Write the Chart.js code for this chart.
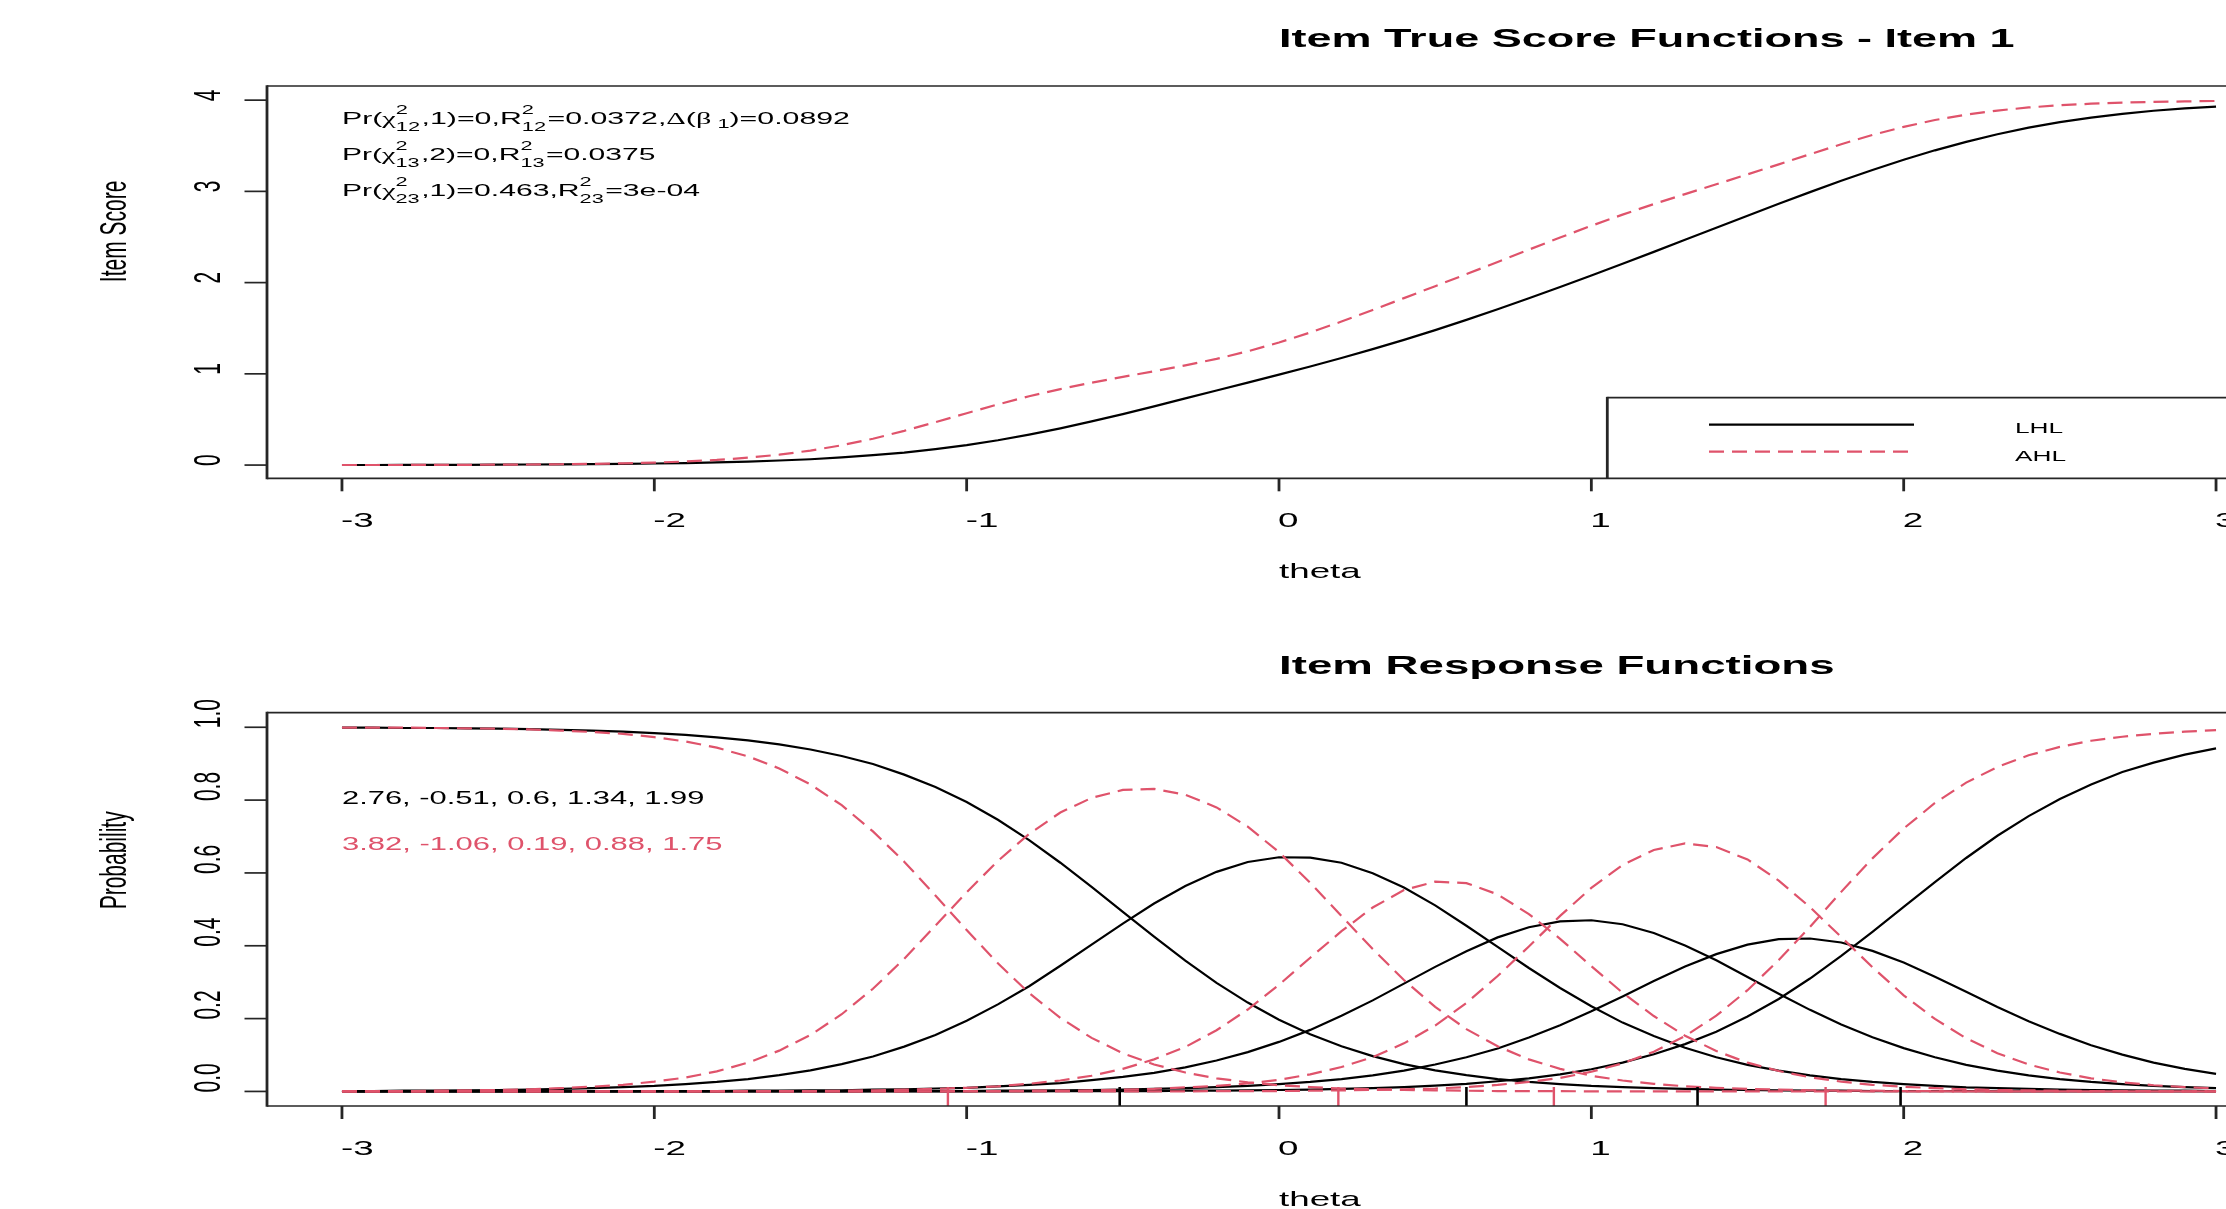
<!DOCTYPE html>
<html>
<head>
<meta charset="utf-8">
<script src="https://cdn.jsdelivr.net/npm/chart.js@4/dist/chart.umd.min.js"></script>
<style>
html,body{margin:0;padding:0;background:#fff;overflow:hidden;width:2226px;height:1209px;}
canvas{position:absolute;left:0;}
#top{top:0;}
#bot{top:605px;}
</style>
</head>
<body>
<canvas id="top"></canvas>
<canvas id="bot"></canvas>
<script>
// ---------------- data ----------------
const theta = [-3.0,-2.9,-2.8,-2.7,-2.6,-2.5,-2.4,-2.3,-2.2,-2.1,-2.0,-1.9,-1.8,-1.7,-1.6,-1.5,-1.4,-1.3,-1.2,-1.1,
  -1.0,-0.9,-0.8,-0.7,-0.6,-0.5,-0.4,-0.3,-0.2,-0.1,0.0,0.1,0.2,0.3,0.4,0.5,0.6,0.7,0.8,0.9,
  1.0,1.1,1.2,1.3,1.4,1.5,1.6,1.7,1.8,1.9,2.0,2.1,2.2,2.3,2.4,2.5,2.6,2.7,2.8,2.9,3.0];

// Item true score functions (top panel)
const itsLHL = [0.001,0.001,0.002,0.002,0.003,0.004,0.006,0.007,0.010,0.013,0.017,0.022,0.029,0.038,0.050,0.064,0.084,0.108,0.137,0.175,
  0.219,0.272,0.334,0.403,0.479,0.559,0.644,0.731,0.817,0.904,0.992,1.081,1.174,1.271,1.372,1.479,1.591,1.708,1.828,1.951,
  2.078,2.207,2.337,2.469,2.601,2.733,2.864,2.992,3.116,3.234,3.346,3.450,3.543,3.626,3.698,3.759,3.809,3.850,3.884,3.910,3.930];
const itsAHL = [0.001,0.001,0.001,0.002,0.003,0.004,0.006,0.009,0.013,0.019,0.027,0.039,0.056,0.081,0.114,0.159,0.217,0.289,0.375,0.470,
  0.568,0.665,0.754,0.833,0.903,0.967,1.028,1.093,1.164,1.247,1.344,1.453,1.573,1.700,1.830,1.961,2.093,2.226,2.361,2.494,
  2.623,2.745,2.861,2.970,3.078,3.186,3.296,3.407,3.517,3.618,3.707,3.782,3.841,3.886,3.920,3.944,3.961,3.973,3.981,3.986,3.991];

// Item response functions (bottom panel), LHL group (black)
const lhlCat0 = [0.999,0.999,0.998,0.998,0.997,0.996,0.995,0.993,0.991,0.988,0.984,0.979,0.972,0.964,0.953,0.939,0.921,0.899,0.870,0.836,
  0.795,0.746,0.690,0.628,0.562,0.493,0.425,0.359,0.298,0.244,0.197,0.157,0.124,0.097,0.075,0.058,0.045,0.034,0.026,0.020,
  0.015,0.012,0.009,0.007,0.005,0.004,0.003,0.002,0.002,0.001,0.001,0.001,0.001,0,0,0,0,0,0,0,0];
const lhlCat1 = [0.001,0.001,0.002,0.002,0.003,0.004,0.005,0.007,0.009,0.012,0.015,0.020,0.026,0.034,0.045,0.058,0.075,0.096,0.123,0.155,
  0.194,0.239,0.289,0.345,0.403,0.461,0.516,0.564,0.603,0.630,0.643,0.642,0.628,0.599,0.560,0.511,0.455,0.397,0.339,0.284,
  0.234,0.189,0.152,0.120,0.094,0.073,0.057,0.044,0.034,0.026,0.020,0.015,0.011,0.009,0.007,0.005,0.004,0.003,0.002,0.002,0.001];
const lhlCat2 = [0,0,0,0,0,0,0,0,0,0,0.001,0.001,0.001,0.002,0.002,0.003,0.003,0.005,0.006,0.008,
  0.010,0.014,0.018,0.023,0.031,0.040,0.051,0.066,0.085,0.108,0.136,0.169,0.208,0.250,0.296,0.342,0.385,0.423,0.451,0.467,
  0.470,0.459,0.435,0.401,0.360,0.314,0.268,0.224,0.184,0.149,0.119,0.094,0.073,0.057,0.044,0.034,0.026,0.020,0.015,0.012,0.009];
const lhlCat3 = [0,0,0,0,0,0,0,0,0,0,0,0,0,0,0,0,0,0.001,0.001,0.001,
  0.001,0.002,0.002,0.003,0.004,0.005,0.007,0.009,0.012,0.015,0.020,0.026,0.034,0.044,0.057,0.074,0.094,0.118,0.148,0.182,
  0.220,0.261,0.303,0.343,0.377,0.403,0.418,0.420,0.409,0.386,0.354,0.315,0.274,0.232,0.193,0.158,0.127,0.101,0.079,0.062,0.048];
const lhlCat4 = [0,0,0,0,0,0,0,0,0,0,0,0,0,0,0,0,0,0,0,0,
  0,0,0,0.001,0.001,0.001,0.001,0.002,0.002,0.003,0.004,0.005,0.007,0.009,0.012,0.016,0.021,0.028,0.036,0.047,
  0.061,0.079,0.102,0.130,0.164,0.206,0.254,0.310,0.372,0.438,0.507,0.575,0.641,0.702,0.756,0.803,0.843,0.877,0.903,0.925,0.942];

// AHL group (red dashed)
const ahlCat0 = [0.999,0.999,0.999,0.998,0.997,0.996,0.994,0.991,0.987,0.982,0.973,0.961,0.944,0.920,0.887,0.843,0.786,0.714,0.631,0.538,
  0.443,0.352,0.270,0.202,0.147,0.105,0.074,0.052,0.036,0.025,0.017,0.012,0.008,0.006,0.004,0.003,0.002,0.001,0.001,0.001,
  0,0,0,0,0,0,0,0,0,0,0,0,0,0,0,0,0,0,0,0,0];
const ahlCat1 = [0.001,0.001,0.001,0.002,0.003,0.004,0.006,0.009,0.013,0.018,0.027,0.038,0.055,0.079,0.112,0.155,0.212,0.282,0.364,0.455,
  0.547,0.633,0.707,0.766,0.806,0.828,0.831,0.815,0.780,0.727,0.657,0.573,0.482,0.391,0.306,0.232,0.171,0.124,0.088,0.062,
  0.043,0.030,0.021,0.014,0.010,0.007,0.005,0.003,0.002,0.002,0.001,0.001,0,0,0,0,0,0,0,0,0];
const ahlCat2 = [0,0,0,0,0,0,0,0,0,0,0,0,0.001,0.001,0.001,0.001,0.002,0.003,0.005,0.007,
  0.010,0.014,0.021,0.030,0.043,0.062,0.088,0.122,0.168,0.225,0.293,0.367,0.440,0.505,0.553,0.576,0.572,0.541,0.487,0.419,
  0.344,0.271,0.207,0.153,0.111,0.079,0.056,0.039,0.027,0.018,0.013,0.009,0.006,0.004,0.003,0.002,0.001,0.001,0.001,0,0];
const ahlCat3 = [0,0,0,0,0,0,0,0,0,0,0,0,0,0,0,0,0,0,0,0,
  0.001,0.001,0.002,0.002,0.003,0.005,0.007,0.011,0.015,0.022,0.032,0.047,0.067,0.094,0.132,0.181,0.243,0.317,0.398,0.482,
  0.559,0.622,0.663,0.681,0.671,0.637,0.579,0.506,0.424,0.341,0.264,0.199,0.146,0.105,0.074,0.052,0.036,0.025,0.017,0.012,0.008];
const ahlCat4 = [0,0,0,0,0,0,0,0,0,0,0,0,0,0,0,0,0,0,0,0,
  0,0,0,0,0,0,0,0,0.001,0.001,0.001,0.002,0.003,0.004,0.006,0.008,0.012,0.018,0.026,0.037,
  0.054,0.077,0.109,0.152,0.208,0.278,0.361,0.452,0.548,0.640,0.722,0.792,0.848,0.891,0.923,0.946,0.963,0.974,0.982,0.988,0.992];

// item parameters (slope, thresholds)
const slopeLHL = 2.76, thrLHL = [-0.51, 0.6, 1.34, 1.99];
const slopeAHL = 3.82, thrAHL = [-1.06, 0.19, 0.88, 1.75];

// ticks / labels
const xTicks = [-3,-2,-1,0,1,2,3];
const yTicksTop = [0,1,2,3,4];
const yTicksBot = [0,0.2,0.4,0.6,0.8,1.0];
const groupNames = ['LHL','AHL'];
const titleTop = 'Item True Score Functions - Item 1';
const titleBot = 'Item Response Functions';
const xLabel = 'theta';
const yLabelTop = 'Item Score';
const yLabelBot = 'Probability';
const annLines = [
  [{t:'n',s:'Pr('},{t:'g',s:'\u03C7'},{t:'ss',sup:'2',sub:'12'},{t:'n',s:',1)=0,R'},{t:'ss',sup:'2',sub:'12'},{t:'n',s:'=0.0372,'},{t:'g',s:'\u0394'},{t:'n',s:'('},{t:'g',s:'\u03B2'},{t:'sub',s:' 1'},{t:'n',s:')=0.0892'}],
  [{t:'n',s:'Pr('},{t:'g',s:'\u03C7'},{t:'ss',sup:'2',sub:'13'},{t:'n',s:',2)=0,R'},{t:'ss',sup:'2',sub:'13'},{t:'n',s:'=0.0375'}],
  [{t:'n',s:'Pr('},{t:'g',s:'\u03C7'},{t:'ss',sup:'2',sub:'23'},{t:'n',s:',1)=0.463,R'},{t:'ss',sup:'2',sub:'23'},{t:'n',s:'=3e-04'}]
];

// ---------------- style ----------------
const S = 1.75;                 // horizontal glyph stretch of the reference
const FONT = '"Liberation Sans", Arial, Helvetica, sans-serif';
const GREEK = '"Liberation Serif", "Times New Roman", serif';
const BLACK = '#000000', RED = '#DF536B', FRAME = '#262626';
const DASH = [15, 8];

function seg(ctx, lw, x1, y1, x2, y2, color, dash) {
  ctx.save();
  ctx.lineWidth = lw; ctx.strokeStyle = color || FRAME; ctx.lineCap = 'butt';
  ctx.setLineDash(dash || []);
  ctx.beginPath(); ctx.moveTo(x1, y1); ctx.lineTo(x2, y2); ctx.stroke();
  ctx.restore();
}

function drawText(ctx, s, x, y, size, opt) {
  opt = opt || {};
  ctx.save();
  ctx.font = (opt.bold ? 'bold ' : '') + size + 'px ' + FONT;
  ctx.fillStyle = opt.color || BLACK;
  ctx.textAlign = 'left'; ctx.textBaseline = 'alphabetic';
  const w = ctx.measureText(s).width;
  ctx.translate(x, y);
  if (opt.rotate) { ctx.scale(S, 1); ctx.rotate(-Math.PI / 2); }
  else ctx.scale(opt.width ? opt.width / w : S, 1);
  ctx.fillText(s, 0, 0);
  ctx.restore();
}

function drawRich(ctx, parts, x, y, size, width, color) {
  const small = size * 0.72;
  const fontOf = (t, sz) => sz + 'px ' + (t === 'g' ? GREEK : FONT);
  ctx.save();
  let cx = 0; const placed = [];
  for (const p of parts) {
    if (p.t === 'ss') {
      const f = fontOf('n', small); ctx.font = f;
      const w = Math.max(ctx.measureText(p.sup).width, ctx.measureText(p.sub).width);
      placed.push({s:p.sup, x:cx, dy:-size*0.61, f});
      placed.push({s:p.sub, x:cx, dy:size*0.39, f});
      cx += w + size*0.05;
    } else if (p.t === 'sub') {
      const f = fontOf('n', small); ctx.font = f;
      placed.push({s:p.s, x:cx, dy:size*0.25, f});
      cx += ctx.measureText(p.s).width;
    } else {
      const f = fontOf(p.t, size); ctx.font = f;
      placed.push({s:p.s, x:cx, dy:0, f});
      cx += ctx.measureText(p.s).width;
    }
  }
  ctx.translate(x, y); ctx.scale(width / cx, 1);
  ctx.fillStyle = color; ctx.textAlign = 'left'; ctx.textBaseline = 'alphabetic';
  for (const p of placed) { ctx.font = p.f; ctx.fillText(p.s, p.x, p.dy); }
  ctx.restore();
}

function drawFrame(chart, yTicks, yFmt, yLabel) {
  const ctx = chart.ctx, a = chart.chartArea, xs = chart.scales.x, ys = chart.scales.y;
  seg(ctx, 1.7, a.left, a.top, a.right, a.top);
  seg(ctx, 1.7, a.left, a.bottom, a.right, a.bottom);
  seg(ctx, 2.8, a.left, a.top - 0.85, a.left, a.bottom + 0.85);
  seg(ctx, 2.8, a.right, a.top - 0.85, a.right, a.bottom + 0.85);
  for (const t of xTicks) {
    const px = xs.getPixelForValue(t);
    seg(ctx, 2.8, px, a.bottom, px, a.bottom + 13);
    drawText(ctx, String(t), px - 1, a.bottom + 48.7, 21);
  }
  for (const v of yTicks) {
    const py = ys.getPixelForValue(v);
    seg(ctx, 1.7, a.left, py, a.left - 22.5, py);
    drawText(ctx, yFmt(v), a.left - 47.3, py + 1, 21, {rotate:true});
  }
  drawText(ctx, xLabel, (a.left + a.right) / 2, a.bottom + 99.7, 21);
  drawText(ctx, yLabel, a.left - 141, (a.top + a.bottom) / 2, 21, {rotate:true});
}

const topPlugin = {
  id: 'rTop',
  afterDraw(chart) {
    const ctx = chart.ctx, a = chart.chartArea, xs = chart.scales.x;
    drawFrame(chart, yTicksTop, v => String(v), yLabelTop);
    drawText(ctx, titleTop, (a.left + a.right) / 2, 46.7, 26, {bold:true, width:735.6});
    const x0 = xs.getPixelForValue(-3);
    const widths = [508, 313.5, 358];
    annLines.forEach((ln, i) => drawRich(ctx, ln, x0, 124 + 36 * i, 17, widths[i], BLACK));
    // legend (bottom right)
    const lx = 1607.3, ly = 397.7;
    seg(ctx, 1.7, lx, ly, a.right, ly);
    seg(ctx, 2.8, lx, ly - 0.85, lx, a.bottom);
    seg(ctx, 2.2, 1709, 424.7, 1914, 424.7, BLACK);
    seg(ctx, 2.2, 1709, 451.7, 1914, 451.7, RED, DASH);
    drawText(ctx, groupNames[0], 2015, 433.3, 15);
    drawText(ctx, groupNames[1], 2015, 460.7, 15);
  }
};

const botPlugin = {
  id: 'rBot',
  afterDraw(chart) {
    const ctx = chart.ctx, a = chart.chartArea, xs = chart.scales.x;
    // rug of thresholds
    for (const t of thrLHL) { const px = xs.getPixelForValue(t); seg(ctx, 2.6, px, a.bottom, px, a.bottom - 19, BLACK); }
    for (const t of thrAHL) { const px = xs.getPixelForValue(t); seg(ctx, 2.4, px, a.bottom, px, a.bottom - 19, RED); }
    drawFrame(chart, yTicksBot, v => v.toFixed(1), yLabelBot);
    drawText(ctx, titleBot, (a.left + a.right) / 2, 68.8, 26, {bold:true, width:555.6});
    const x0 = xs.getPixelForValue(-3);
    drawText(ctx, [slopeLHL].concat(thrLHL).join(', '), x0, 199, 17.5, {width:362.5, color:BLACK});
    drawText(ctx, [slopeAHL].concat(thrAHL).join(', '), x0, 245, 17.5, {width:380.5, color:RED});
  }
};

function series(vals, color, dashed) {
  return {
    data: theta.map((t, i) => ({x: t, y: vals[i]})),
    borderColor: color, borderWidth: 2.2, borderDash: dashed ? DASH : [],
    pointRadius: 0, tension: 0, fill: false
  };
}

function makeChart(id, h, pad, yMin, yMax, datasets, plugin) {
  const cv = document.getElementById(id);
  cv.width = 2300; cv.height = h;
  return new Chart(cv, {
    type: 'line',
    data: { datasets },
    options: {
      responsive: false, animation: false, devicePixelRatio: 1,
      layout: { padding: pad },
      plugins: { legend: { display: false }, tooltip: { enabled: false }, title: { display: false } },
      scales: {
        x: { type: 'linear', min: -3.24, max: 3.24, display: false },
        y: { type: 'linear', min: yMin, max: yMax, display: false }
      }
    },
    plugins: [plugin]
  });
}

makeChart('top', 605, {left: 267, right: 9, top: 86, bottom: 126.7}, -0.145, 4.155,
  [series(itsAHL, RED, true), series(itsLHL, BLACK, false)], topPlugin);

makeChart('bot', 604, {left: 267, right: 9, top: 107.7, bottom: 103}, -0.04, 1.04,
  [series(ahlCat0, RED, true), series(ahlCat1, RED, true), series(ahlCat2, RED, true), series(ahlCat3, RED, true), series(ahlCat4, RED, true),
   series(lhlCat0, BLACK, false), series(lhlCat1, BLACK, false), series(lhlCat2, BLACK, false), series(lhlCat3, BLACK, false), series(lhlCat4, BLACK, false)], botPlugin);
</script>
</body>
</html>
